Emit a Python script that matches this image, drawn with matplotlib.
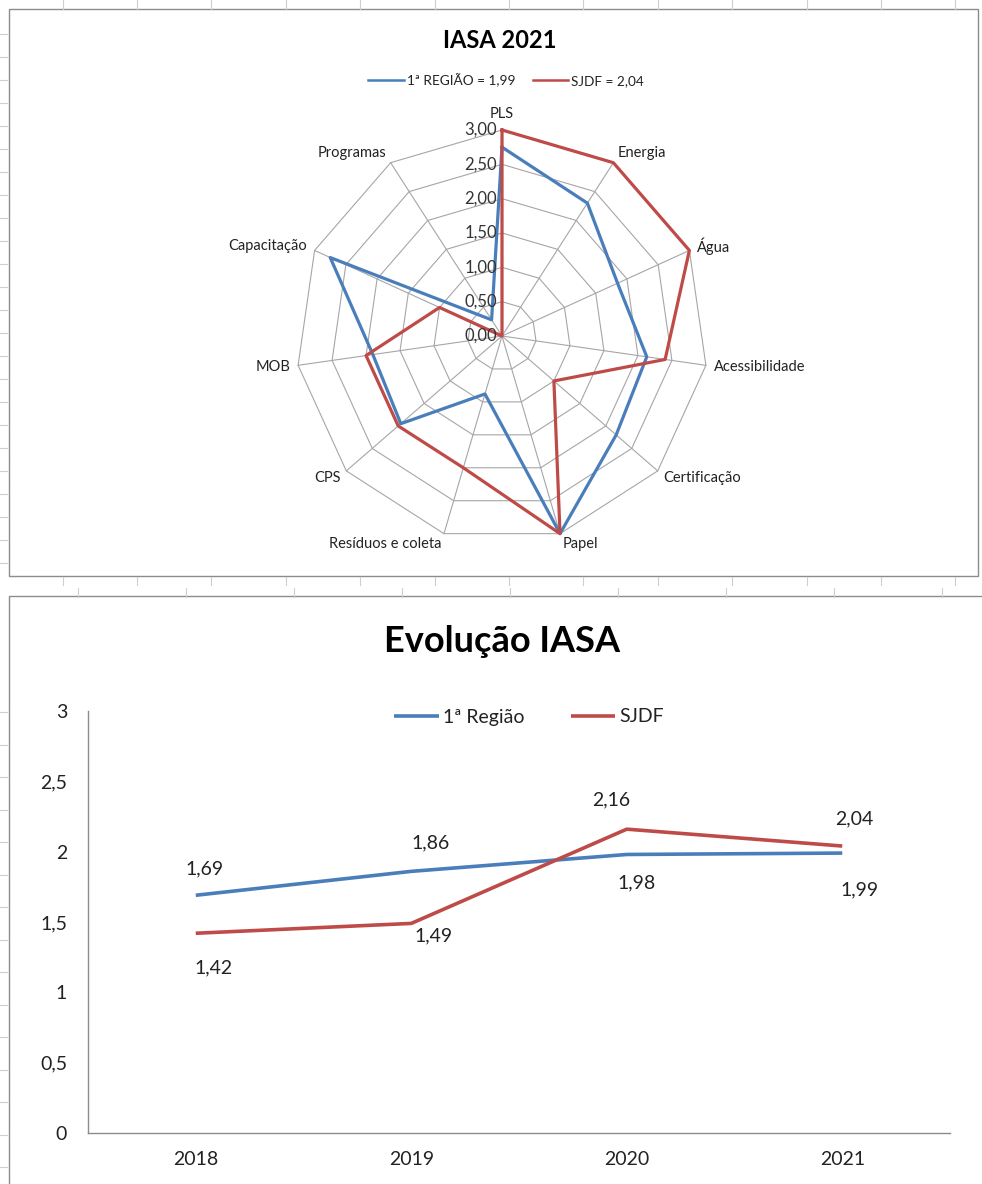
import numpy as np
import matplotlib
matplotlib.use("Agg")
import matplotlib.pyplot as plt
from matplotlib.lines import Line2D
from matplotlib.patches import Rectangle

plt.rcParams['font.family'] = ['Lato', 'DejaVu Sans']

# ---------------- data ----------------
radar_categories = ["PLS", "Energia", "Água", "Acessibilidade", "Certificação", "Papel",
                    "Resíduos e coleta", "CPS", "MOB", "Capacitação", "Programas"]
radar_regiao = [2.75, 2.30, 1.85, 2.13, 2.20, 3.00, 0.88, 1.95, 1.90, 2.75, 0.28]
radar_sjdf = [3.00, 3.00, 3.00, 2.40, 1.00, 3.00, 2.00, 2.00, 2.00, 1.00, 0.00]
radar_labels = ["1ª REGIÃO = 1,99", "SJDF = 2,04"]
radar_ticks = [0.0, 0.5, 1.0, 1.5, 2.0, 2.5, 3.0]

years = ["2018", "2019", "2020", "2021"]
evol_regiao = [1.69, 1.86, 1.98, 1.99]
evol_sjdf = [1.42, 1.49, 2.16, 2.04]
evol_labels = ["1ª Região", "SJDF"]
evol_yticks = [0, 0.5, 1, 1.5, 2, 2.5, 3]

BLUE = "#4a7ebb"
RED = "#be4b48"
GRID = "#a6a6a6"
TXT = "#222222"
W, H = 982, 1184

fig = plt.figure(figsize=(W / 100, H / 100), dpi=100)


def fx(x):
    return x / W


def fy(y):
    return 1 - y / H


def ptxt(v, nd):
    return f"{v:.{nd}f}".replace(".", ",")


# ------------- spreadsheet background -------------
bg = "#cfcfcf"
for x in np.arange(62.6, W, 74.4):
    fig.add_artist(Line2D([fx(x), fx(x)], [fy(0), fy(9)], color=bg, lw=0.8))
    fig.add_artist(Line2D([fx(x), fx(x)], [fy(577), fy(585)], color=bg, lw=0.8))
for x in np.arange(78, W, 108):
    fig.add_artist(Line2D([fx(x), fx(x)], [fy(588), fy(597)], color=bg, lw=0.8))
for y in np.arange(34, 575, 23):
    fig.add_artist(Line2D([fx(0), fx(7)], [fy(y), fy(y)], color=bg, lw=0.8))
for y in np.arange(712, H, 32.5):
    fig.add_artist(Line2D([fx(0), fx(7)], [fy(y), fy(y)], color=bg, lw=0.8))

fig.add_artist(Rectangle((fx(9), fy(576)), fx(978) - fx(9), fy(9) - fy(576),
                         fill=False, ec="#8c8c8c", lw=1.0))
fig.add_artist(Rectangle((fx(9), fy(1200)), fx(1000) - fx(9), fy(596) - fy(1200),
                         fill=False, ec="#8c8c8c", lw=1.0))

# ---------------- radar chart ----------------
cx, cy, R = 502, 336, 206
axr = fig.add_axes([fx(cx - R), fy(cy + R), 2 * R / W, 2 * R / H], projection="polar")
axr.set_theta_offset(np.pi / 2)
axr.set_theta_direction(-1)
axr.set_ylim(0, 3)
axr.set_axis_off()

n = len(radar_categories)
ang = np.arange(n) * 2 * np.pi / n
angc = np.append(ang, ang[0])

for t in radar_ticks[1:]:
    axr.plot(angc, [t] * (n + 1), color=GRID, lw=0.8, clip_on=False, zorder=1)
for a in ang:
    axr.plot([a, a], [0, radar_ticks[-1]], color=GRID, lw=0.8, clip_on=False, zorder=1)

axr.plot(angc, np.append(radar_regiao, radar_regiao[0]), color=BLUE, lw=2.3,
         clip_on=False, zorder=3, label=radar_labels[0])
axr.plot(angc, np.append(radar_sjdf, radar_sjdf[0]), color=RED, lw=2.3,
         clip_on=False, zorder=4, label=radar_labels[1])

for t in radar_ticks:
    axr.annotate(ptxt(t, 2), xy=(0, t), xytext=(-5, 0), textcoords="offset pixels",
                 ha="right", va="center", fontsize=12, color="#333333",
                 annotation_clip=False, zorder=5)

for a, lab in zip(ang, radar_categories):
    s, c = np.sin(a), np.cos(a)
    if abs(s) < 0.1:
        ha, va, off = "center", "bottom", (0, 9)
    else:
        ha = "left" if s > 0 else "right"
        va = "center"
        off = (8 * s, 11 * c)
    axr.annotate(lab, xy=(a, radar_ticks[-1]), xytext=off, textcoords="offset pixels",
                 ha=ha, va=va, fontsize=10.5, color=TXT, annotation_clip=False)

fig.text(fx(500), fy(41), "IASA 2021", ha="center", va="center", fontsize=17,
         fontweight="bold", color="black")
axr.legend(loc="center", bbox_to_anchor=(fx(506), fy(80)), bbox_transform=fig.transFigure,
           ncol=2, frameon=False, fontsize=9.8, handlelength=2.6, handletextpad=0.2,
           columnspacing=1.3, labelcolor=TXT)
for lh in axr.get_legend().get_lines():
    lh.set_linewidth(1.8)

# ---------------- line chart ----------------
x0, x1, ytop, ybot = 88, 950, 711, 1133
axl = fig.add_axes([fx(x0), fy(ybot), (x1 - x0) / W, (ybot - ytop) / H])
xs = np.arange(len(years)) + 0.5
axl.plot(xs, evol_regiao, color=BLUE, lw=2.6, label=evol_labels[0], solid_capstyle="butt")
axl.plot(xs, evol_sjdf, color=RED, lw=2.6, label=evol_labels[1], solid_capstyle="butt")
axl.set_xlim(0, len(years))
axl.set_ylim(0, 3)
axl.set_xticks(xs)
axl.set_xticklabels(years)
axl.set_yticks(evol_yticks)
axl.set_yticklabels([f"{v:g}".replace(".", ",") for v in evol_yticks])
axl.tick_params(length=0, labelsize=14, colors=TXT)
axl.tick_params(axis="y", pad=15)
axl.tick_params(axis="x", pad=13)
for sp in ["top", "right"]:
    axl.spines[sp].set_visible(False)
for sp in ["left", "bottom"]:
    axl.spines[sp].set_color("#8c8c8c")
    axl.spines[sp].set_linewidth(1.0)

blue_off = [(9, 26), (19, 28), (10, -28), (17, -37)]
red_off = [(18, -35), (22, -12), (-16, 29), (12, 27)]
for x, v, o in zip(xs, evol_regiao, blue_off):
    axl.annotate(ptxt(v, 2), xy=(x, v), xytext=o, textcoords="offset pixels",
                 ha="center", va="center", fontsize=14, color=TXT)
for x, v, o in zip(xs, evol_sjdf, red_off):
    axl.annotate(ptxt(v, 2), xy=(x, v), xytext=o, textcoords="offset pixels",
                 ha="center", va="center", fontsize=14, color=TXT)

axl.legend(loc="center", bbox_to_anchor=(fx(529), fy(717)), bbox_transform=fig.transFigure,
           ncol=2, frameon=False, fontsize=14, handlelength=2.3, handletextpad=0.2,
           columnspacing=2.4, labelcolor=TXT)

fig.text(fx(502), fy(642), "Evolução IASA", ha="center", va="center", fontsize=26,
         fontweight="bold", color="black")

fig.savefig("out.png", dpi=100, facecolor="white")
